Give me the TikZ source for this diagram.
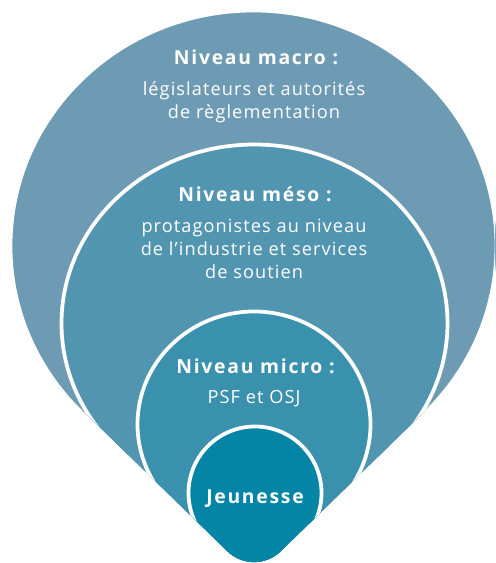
\documentclass[tikz,border=0pt]{standalone}
\usepackage{fontspec}
\setmainfont{Open Sans}
\newfontfamily\namefont[LetterSpace=9]{Open Sans}
\newfontfamily\bodyfont[LetterSpace=6]{Open Sans}
\usetikzlibrary{positioning}

\definecolor{macroblue}{HTML}{6E9BB4}
\definecolor{mesoblue}{HTML}{5295B0}
\definecolor{microblue}{HTML}{3A91AD}
\definecolor{youthblue}{HTML}{0585A6}

\tikzset{
  levelname/.style={text=white, inner sep=0pt, anchor=base,
    font=\namefont\bfseries\fontsize{16.5}{19}\selectfont},
  leveltext/.style={text=white, inner sep=0pt, anchor=base,
    font=\bodyfont\fontsize{15.5}{18}\selectfont},
  ring/.style={white, line width=3.2pt}
}

% common V with rounded tip, all levels share it
\newcommand{\funnel}{(-392,-50) -- (227.65,551.45)
  arc[start angle=134, end angle=46, radius=38] -- (900,-50) -- cycle}

\begin{document}
\begin{tikzpicture}[x=0.03cm, y=-0.03cm]

  \useasboundingbox (0,0) rectangle (495,563);

  % levels, outside in
  \foreach \cx/\cy/\ra/\rb/\ycut/\col in {253.5/246/243/235.5/410/macroblue,
      254.5/323.4/193/178.9/445/mesoblue,
      254/424.4/116.5/112.9/500/microblue,
      255/493/66.5/66.5/535/youthblue}
  {
    \begin{scope}
      \clip \funnel;
      \fill [\col] (\cx,\cy) ellipse [x radius=\ra, y radius=\rb];
      \fill [\col] (0,\ycut) rectangle (495,600);
      \clip (0,-50) rectangle (495,\ycut);
      \draw [ring] (\cx,\cy) ellipse [x radius=\ra, y radius=\rb];
    \end{scope}
  }

  % labels
  \node [levelname] (macro) at (256,64) {Niveau macro :};
  \node [levelname] (meso) at (255,201) {Niveau méso :};
  \node [levelname] (micro) at (255.5,373) {Niveau micro :};
  \node [levelname] (youth) at (255,503) {Jeunesse};

  \foreach \yy/\txt [count=\i] in {95/législateurs et autorités,
      118/de règlementation,
      232/protagonistes au niveau,
      255/de l’industrie et services,
      278/de soutien,
      403/PSF et OSJ}
    \node [leveltext] (line\i) at (254,\yy) {\txt};

\end{tikzpicture}
\end{document}
